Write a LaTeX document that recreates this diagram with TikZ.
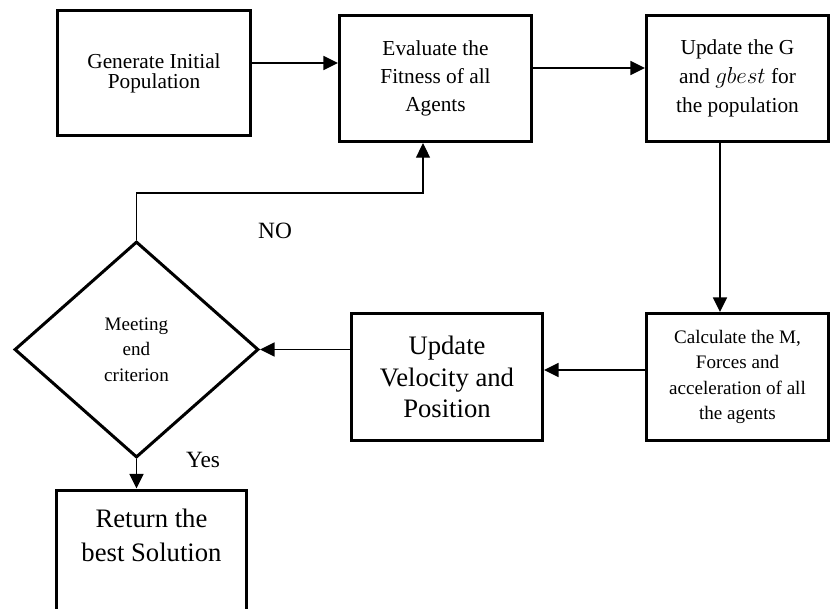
\documentclass[tikz,border=0pt]{standalone}
\usepackage{fontspec}
\setmainfont{Liberation Serif}
\usepackage{tikz}
\usetikzlibrary{arrows.meta,positioning,shapes.geometric}
\definecolor{ink}{HTML}{000000}
\tikzset{
  procbox/.style={
    rectangle, draw=ink, line width=2.25pt, fill=white,
    align=center, inner sep=2pt
  },
  decisionbox/.style={
    diamond, draw=ink, line width=2.25pt, fill=white,
    align=center, inner sep=0pt
  },
  flowarrow/.style={
    -{Triangle[length=11pt,width=10.5pt]}, line width=1.3pt, color=ink
  },
  looparrow/.style={
    -{Triangle[length=11pt,width=10.5pt]}, line width=0.8pt, color=ink
  },
  branchlabel/.style={
    font=\fontsize{17.5}{21}\selectfont, inner sep=1pt
  },
}
\begin{document}
\begin{tikzpicture}[x=0.75pt, y=-0.75pt]
\useasboundingbox (0,0) rectangle (830,609);
\clip (0,0) rectangle (830,609);

% top row
\node[procbox, minimum width=144.75pt, minimum height=93.75pt,
      font=\fontsize{16}{15.5}\selectfont] (gen) at (154,73.5)
      {Generate Initial\\Population};
\node[procbox, minimum width=144pt, minimum height=94.5pt,
      font=\fontsize{16}{21}\selectfont] (eval) at (435.5,78.5)
      {Evaluate the\\Fitness of all\\Agents};
\node[procbox, minimum width=136.5pt, minimum height=94.5pt,
      font=\fontsize{16}{21.5}\selectfont] (upd) at (737.5,78.5)
      {Update the G\\and $gbest$ for\\the population};

% middle row
\node[procbox, minimum width=136.5pt, minimum height=95.25pt,
      font=\fontsize{14.3}{19}\selectfont] (calc) at (737.5,377)
      {Calculate the M,\\Forces and\\acceleration of all\\the agents};
\node[procbox, minimum width=143.25pt, minimum height=95.25pt,
      font=\fontsize{20}{23.5}\selectfont] (vel) at (447,377)
      {Update\\Velocity and\\Position};
\node[decisionbox, minimum width=183pt, minimum height=162pt,
      font=\fontsize{14.3}{19}\selectfont] (crit) at (136.5,349.5)
      {Meeting\\end\\criterion};

% bottom box (runs off the page)
\node[procbox, minimum width=142.5pt, minimum height=121pt, anchor=north]
      (ret) at (151.5,488.5) {};
\node[font=\fontsize{20}{26}\selectfont, align=center] (rettext) at (151.5,535.5)
      {Return the\\best Solution};

% connectors
\draw[flowarrow] (gen.east |- 0,63) -- (eval.west |- 0,63);
\draw[flowarrow] (eval.east |- 0,68) -- (upd.west |- 0,68);
\draw[flowarrow] (upd.south -| 720,0) -- (calc.north -| 720,0);
\draw[flowarrow] (calc.west |- 0,370) -- (vel.east |- 0,370);
\draw[flowarrow] (vel.west |- crit.east) -- (crit.east);
\draw[looparrow] (crit.north) -- (crit.north |- 0,193) -| (eval.south -| 423,0);
\draw[flowarrow] (crit.south) -- (crit.south |- ret.north);

% branch labels
\node[branchlabel] (nolabel) at (275,231) {NO};
\node[branchlabel] (yeslabel) at (203,460) {Yes};

\end{tikzpicture}
\end{document}
